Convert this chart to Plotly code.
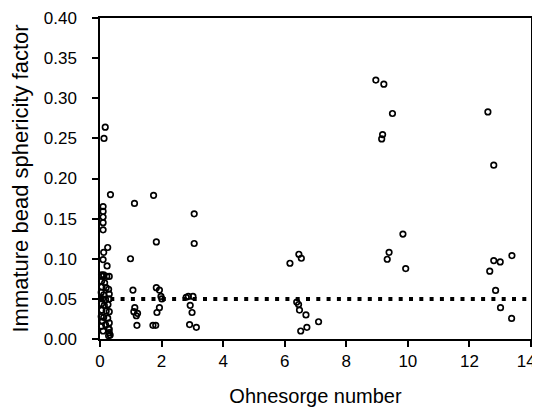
import plotly.graph_objects as go

# Ohnesorge number (x) and immature bead sphericity factor (y)
x_vals = [
    # cluster near Oh ~ 0
    0.17, 0.13, 0.34, 0.10, 0.10, 0.10, 0.10, 0.10, 0.25, 0.12, 0.10, 0.23,
    0.05, 0.12, 0.08, 0.22, 0.30, 0.05, 0.15, 0.06, 0.20, 0.28, 0.04, 0.12,
    0.30, 0.08, 0.18, 0.30, 0.05, 0.14, 0.26, 0.06, 0.20, 0.30, 0.04, 0.12,
    0.25, 0.08, 0.30, 0.05, 0.18, 0.28, 0.10, 0.30, 0.33, 0.28, 0.30,
    # Oh ~ 1-2
    1.74, 1.12, 1.83, 0.99, 1.07, 1.83, 1.93, 1.98, 2.01, 1.13, 1.10, 1.22,
    1.18, 1.93, 1.85, 1.20, 1.72, 1.81,
    # Oh ~ 3
    3.06, 3.06, 2.80, 2.87, 3.02, 2.93, 2.99, 2.91, 3.13,
    # Oh ~ 6-7
    6.17, 6.46, 6.54, 6.39, 6.45, 6.48, 6.69, 7.10, 6.72, 6.52,
    # Oh ~ 9-10
    8.96, 9.22, 9.50, 9.18, 9.15, 9.84, 9.39, 9.33, 9.93,
    # Oh ~ 12.5-13.5
    12.60, 12.79, 12.79, 13.00, 13.38, 12.66, 12.85, 13.01, 13.37,
]
y_vals = [
    0.264, 0.250, 0.180, 0.165, 0.159, 0.152, 0.145, 0.136, 0.114, 0.108, 0.099, 0.091,
    0.080, 0.080, 0.078, 0.078, 0.078, 0.072, 0.070, 0.065, 0.064, 0.062, 0.058, 0.055,
    0.056, 0.050, 0.049, 0.050, 0.044, 0.042, 0.043, 0.036, 0.035, 0.034, 0.028, 0.027,
    0.026, 0.022, 0.020, 0.016, 0.018, 0.013, 0.010, 0.008, 0.005, 0.004, 0.012,
    0.179, 0.169, 0.121, 0.100, 0.061, 0.064, 0.061, 0.053, 0.050, 0.039, 0.034, 0.032,
    0.029, 0.039, 0.033, 0.017, 0.017, 0.017,
    0.156, 0.119, 0.052, 0.053, 0.053, 0.042, 0.033, 0.018, 0.0145,
    0.0944, 0.1056, 0.1006, 0.046, 0.043, 0.036, 0.030, 0.0215, 0.0145, 0.010,
    0.3226, 0.3175, 0.281, 0.2547, 0.2493, 0.1308, 0.108, 0.0994, 0.0878,
    0.283, 0.2166, 0.0977, 0.096, 0.104, 0.0845, 0.0605, 0.039, 0.0257,
]

# threshold reference line
thr_x = [0, 14]
thr_y = [0.05, 0.05]

x_ticks = [0, 2, 4, 6, 8, 10, 12, 14]
# last label gets invisible padding so it stays inside the page edge
x_tick_labels = ["0", "2", "4", "6", "8", "10", "12",
                 "14<span style='color:rgba(255,255,255,0)'>0</span>"]
y_ticks = [0.00, 0.05, 0.10, 0.15, 0.20, 0.25, 0.30, 0.35, 0.40]

fig = go.Figure()
fig.add_trace(go.Scatter(
    x=thr_x, y=thr_y, mode="lines",
    line=dict(color="black", width=4, dash="4px,6.3px"),
    hoverinfo="skip", showlegend=False,
))
fig.add_trace(go.Scatter(
    x=x_vals, y=y_vals, mode="markers",
    marker=dict(symbol="circle-open", size=5.5, color="black",
                line=dict(color="black", width=1.7)),
    showlegend=False, cliponaxis=False,
))

axis_common = dict(
    showgrid=False, zeroline=False, showline=True, linecolor="black",
    linewidth=1.5, mirror=True, ticks="outside", ticklen=6, tickwidth=1.5,
    tickcolor="black", automargin=False, ticklabeloverflow="allow",
    tickfont=dict(family="Liberation Sans, Arial", size=17, color="black"),
)

# the page body adds an 8px offset, so margins are reduced to compensate
fig.update_layout(
    width=540, height=399,
    margin=dict(l=91.5, r=16.5, t=10.3, b=67.7),
    paper_bgcolor="white", plot_bgcolor="white",
    font=dict(family="Liberation Sans, Arial", color="black"),
    xaxis=dict(range=[0, 14], tickvals=x_ticks,
               ticktext=x_tick_labels,
               ticklabelstandoff=0,
               title=dict(text="Ohnesorge number", font=dict(size=20), standoff=22),
               **axis_common),
    yaxis=dict(range=[0, 0.40], tickvals=y_ticks,
               ticktext=[f"{t:.2f}" for t in y_ticks],
               ticklabelstandoff=12,
               title=dict(text="Immature bead sphericity factor", font=dict(size=22), standoff=12),
               **axis_common),
)

fig.write_html("out.html")
